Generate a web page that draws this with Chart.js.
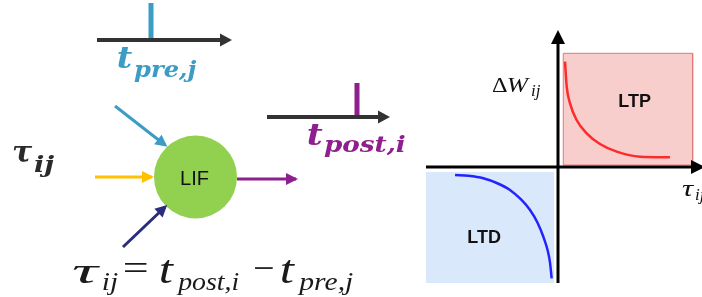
<!DOCTYPE html>
<html>
<head>
<meta charset="utf-8">
<script src="https://cdn.jsdelivr.net/npm/chart.js@4"></script>
<style>
  html, body { margin: 0; padding: 0; background: #ffffff; }
  #wrap { position: relative; width: 702px; height: 297px; overflow: hidden; background: #fff; }
  #left { position: absolute; left: 0; top: 0; }
  #right { position: absolute; left: 420px; top: 0; }
</style>
</head>
<body>
<div id="wrap">
  <canvas id="left" width="420" height="297"></canvas>
  <canvas id="right" width="282" height="297"></canvas>
</div>
<script>
// ---------- STDP plot data (tau_ij vs Delta W_ij, arbitrary units) ----------
const ltpTau = [0.053, 0.066, 0.091, 0.141, 0.217, 0.318, 0.445, 0.621, 0.848];
const ltpDW  = [0.908, 0.692, 0.549, 0.405, 0.290, 0.198, 0.132, 0.089, 0.084];
const ltdTau = [-0.780, -0.680, -0.566, -0.460, -0.364, -0.280, -0.212, -0.155, -0.111, -0.078, -0.061, -0.048];
const ltdDW  = [-0.069, -0.076, -0.097, -0.140, -0.198, -0.280, -0.371, -0.480, -0.601, -0.720, -0.820, -0.960];
const ltpBoxTau = [0.04, 1.02];
const ltpBoxDW  = [0.017, 0.98];
const ltdBoxTau = [-1.0, -0.03];
const ltdBoxDW  = [-1.0, -0.043];
const regionLabels = ['LTP', 'LTD'];

// ---------- Neuron diagram (schematic, canvas units) ----------
const preTrain  = [[97, 40], [226, 40]];
const preSpike  = [[151, 3], [151, 40]];
const postTrain = [[267, 117], [384, 117]];
const postSpike = [[357, 83], [357, 117]];
const inPre     = [[115, 106], [165, 145]];
const inMid     = [[95, 177], [152, 177]];
const inLow     = [[123, 247], [165, 207]];
const outPost   = [[237, 179], [296, 179]];
const neuron    = [[195.5, 177]];

const C_BLUE = '#3b9cc4', C_PURPLE = '#8e1f8e', C_ORANGE = '#ffc000',
      C_NAVY = '#2b2c7c', C_DARK = '#333333', C_GREEN = '#92d050';

const toPts = a => a.map(p => ({ x: p[0], y: p[1] }));

function arrowHead(ctx, x0, y0, x1, y1, len, half, color) {
  const ang = Math.atan2(y1 - y0, x1 - x0);
  ctx.save();
  ctx.fillStyle = color;
  ctx.beginPath();
  ctx.moveTo(x1, y1);
  ctx.lineTo(x1 - len * Math.cos(ang) + half * Math.sin(ang), y1 - len * Math.sin(ang) - half * Math.cos(ang));
  ctx.lineTo(x1 - len * Math.cos(ang) - half * Math.sin(ang), y1 - len * Math.sin(ang) + half * Math.cos(ang));
  ctx.closePath();
  ctx.fill();
  ctx.restore();
}

// draw text horizontally fitted between x and x+w at baseline y
function fitText(ctx, t, font, x, w, y, color) {
  ctx.save();
  ctx.font = font;
  ctx.fillStyle = color;
  ctx.textAlign = 'left';
  ctx.textBaseline = 'alphabetic';
  const m = ctx.measureText(t);
  const left = m.actualBoundingBoxLeft || 0;
  const real = (m.actualBoundingBoxRight || m.width) + left;
  const s = w / real;
  ctx.translate(x, y);
  ctx.scale(s, 1);
  ctx.fillText(t, left, 0);
  ctx.restore();
}

const SER = 'px "DejaVu Serif", serif';
const TMS = 'px "Liberation Serif", serif';
// [text, font, left x, width, baseline y, color]
const leftLabels = [
  ['t', 'bold italic 29' + SER, 118, 15, 68, C_BLUE],
  ['pre,j', 'bold italic 23' + SER, 134, 63, 77, C_BLUE],
  ['t', 'bold italic 30' + SER, 308, 15, 145, C_PURPLE],
  ['post,i', 'bold italic 23' + SER, 324, 81, 152, C_PURPLE],
  ['τ', 'bold italic 30' + SER, 13, 20, 162, '#2a2a2a'],
  ['ij', 'bold italic 23' + SER, 34, 21, 172, '#2a2a2a'],
  ['τ', 'italic 36' + TMS, 72, 28, 283, '#1a1a1a'],
  ['ij', 'italic 26' + TMS, 103, 15, 290, '#1a1a1a'],
  ['=', '36' + TMS, 124, 23, 280, '#1a1a1a'],
  ['t', 'italic 40' + TMS, 160, 14, 283, '#1a1a1a'],
  ['post,i', 'italic 26' + TMS, 176, 63, 290, '#1a1a1a'],
  ['−', '36' + TMS, 254, 19, 280, '#1a1a1a'],
  ['t', 'italic 40' + TMS, 281, 14, 283, '#1a1a1a'],
  ['pre,j', 'italic 26' + TMS, 297, 56, 290, '#1a1a1a']
];

const arrowPlugin = {
  id: 'arrows',
  afterDatasetsDraw(chart) {
    const ctx = chart.ctx;
    chart.data.datasets.forEach((ds, i) => {
      if (!ds.arrow) return;
      const pts = chart.getDatasetMeta(i).data;
      const a = pts[pts.length - 2], b = pts[pts.length - 1];
      const ang = Math.atan2(b.y - a.y, b.x - a.x);
      const tipX = b.x + ds.arrow.ext * Math.cos(ang), tipY = b.y + ds.arrow.ext * Math.sin(ang);
      arrowHead(ctx, a.x, a.y, tipX, tipY, ds.arrow.len, ds.arrow.half, ds.borderColor);
    });
  }
};

const leftText = {
  id: 'leftText',
  afterDraw(chart) {
    const ctx = chart.ctx;
    leftLabels.forEach(l => fitText(ctx, l[0], l[1], l[2], l[3], l[4], l[5]));
    ctx.save();
    ctx.fillStyle = '#111';
    ctx.font = '20px "Liberation Sans", Arial, sans-serif';
    ctx.textAlign = 'center';
    ctx.textBaseline = 'middle';
    const n = chart.getDatasetMeta(chart.data.datasets.length - 1).data[0];
    ctx.fillText('LIF', n.x - 1, n.y + 2);
    ctx.restore();
  }
};

function lineDs(pts, color, width, arrow) {
  return {
    data: toPts(pts), showLine: true, borderColor: color, borderWidth: width,
    pointRadius: 0, fill: false, borderCapStyle: 'butt', arrow: arrow || null, order: 1
  };
}

new Chart(document.getElementById('left'), {
  type: 'scatter',
  data: {
    datasets: [
      lineDs(preTrain, C_DARK, 4, { len: 12, half: 6.5, ext: 6 }),
      lineDs(preSpike, C_BLUE, 5),
      lineDs(postTrain, C_DARK, 4, { len: 12, half: 6.5, ext: 6 }),
      lineDs(postSpike, C_PURPLE, 5),
      lineDs(inPre, C_BLUE, 3, { len: 12, half: 6, ext: 3 }),
      lineDs(inMid, C_ORANGE, 3, { len: 12, half: 6, ext: 2 }),
      lineDs(inLow, C_NAVY, 3, { len: 12, half: 6, ext: 3 }),
      lineDs(outPost, C_PURPLE, 3, { len: 12, half: 6, ext: 2 }),
      { data: toPts(neuron), pointRadius: 41.5, pointBackgroundColor: C_GREEN,
        pointBorderWidth: 0, pointBorderColor: C_GREEN, showLine: false, order: 5 }
    ]
  },
  options: {
    responsive: false, animation: false, devicePixelRatio: 1,
    layout: { padding: 0, autoPadding: false },
    plugins: { legend: { display: false }, tooltip: { enabled: false } },
    scales: {
      x: { type: 'linear', min: 0, max: 420, display: false },
      y: { type: 'linear', min: 0, max: 297, reverse: true, display: false }
    }
  },
  plugins: [arrowPlugin, leftText]
});

// ---------- right: STDP plot ----------
function boxPts(tau, dw) {
  return [
    { x: tau[0], y: dw[0] }, { x: tau[0], y: dw[1] },
    { x: tau[1], y: dw[1] }, { x: tau[1], y: dw[0] }, { x: tau[0], y: dw[0] }
  ];
}

const axesPlugin = {
  id: 'stdpAxes',
  afterDatasetsDraw(chart) {
    const ctx = chart.ctx, xs = chart.scales.x, ys = chart.scales.y;
    const x0 = xs.getPixelForValue(0), y0 = ys.getPixelForValue(0);
    const a = chart.chartArea;
    ctx.save();
    ctx.strokeStyle = '#000';
    ctx.lineWidth = 3;
    ctx.beginPath();
    ctx.moveTo(a.left, y0); ctx.lineTo(a.right - 10, y0);
    ctx.moveTo(x0, a.bottom); ctx.lineTo(x0, a.top + 10);
    ctx.stroke();
    ctx.restore();
    arrowHead(ctx, a.left, y0, a.right + 3, y0, 14, 7, '#000');
    arrowHead(ctx, x0, a.bottom, x0, a.top, 14, 7, '#000');
    // region labels
    ctx.save();
    ctx.fillStyle = '#111';
    ctx.font = 'bold 18px "Liberation Sans", Arial, sans-serif';
    ctx.textAlign = 'center';
    ctx.textBaseline = 'middle';
    ctx.fillText(regionLabels[0], xs.getPixelForValue(0.58), ys.getPixelForValue(0.56));
    ctx.fillText(regionLabels[1], xs.getPixelForValue(-0.56), ys.getPixelForValue(-0.61));
    ctx.restore();
    // axis labels (relative to the axes origin)
    fitText(ctx, 'Δ', '21' + TMS, x0 - 66, 15, y0 - 75, '#111');
    fitText(ctx, 'W', 'italic 22' + TMS, x0 - 50, 22, y0 - 75, '#111');
    fitText(ctx, 'ij', 'italic 16' + TMS, x0 - 27, 10, y0 - 71, '#111');
    fitText(ctx, 'τ', 'italic 24' + TMS, x0 + 124, 13, y0 + 29, '#111');
    fitText(ctx, 'ij', 'italic 16' + TMS, x0 + 137, 10, y0 + 33, '#111');
  }
};

new Chart(document.getElementById('right'), {
  type: 'scatter',
  data: {
    datasets: [
      { data: ltpTau.map((t, i) => ({ x: t, y: ltpDW[i] })), showLine: true, borderColor: '#ff2a2a',
        borderWidth: 2.5, pointRadius: 0, cubicInterpolationMode: 'monotone', fill: false, order: 1 },
      { data: ltdTau.map((t, i) => ({ x: t, y: ltdDW[i] })), showLine: true, borderColor: '#2323ff',
        borderWidth: 2.5, pointRadius: 0, cubicInterpolationMode: 'monotone', fill: false, order: 1 },
      { data: boxPts(ltpBoxTau, ltpBoxDW), showLine: true, fill: 'shape', backgroundColor: '#f8cecc',
        borderColor: '#e07a7a', borderWidth: 1, pointRadius: 0, tension: 0, order: 3 },
      { data: boxPts(ltdBoxTau, ltdBoxDW), showLine: true, fill: 'shape', backgroundColor: '#dae8fc',
        borderColor: '#dae8fc', borderWidth: 0, pointRadius: 0, tension: 0, order: 3 }
    ]
  },
  options: {
    responsive: false, animation: false, devicePixelRatio: 1,
    layout: { padding: { left: 6, right: 0, top: 30, bottom: 14 }, autoPadding: false },
    plugins: { legend: { display: false }, tooltip: { enabled: false } },
    scales: {
      x: { type: 'linear', min: -1, max: 1.0909, display: false },
      y: { type: 'linear', min: -1, max: 1.181, display: false }
    }
  },
  plugins: [axesPlugin]
});
</script>
</body>
</html>
